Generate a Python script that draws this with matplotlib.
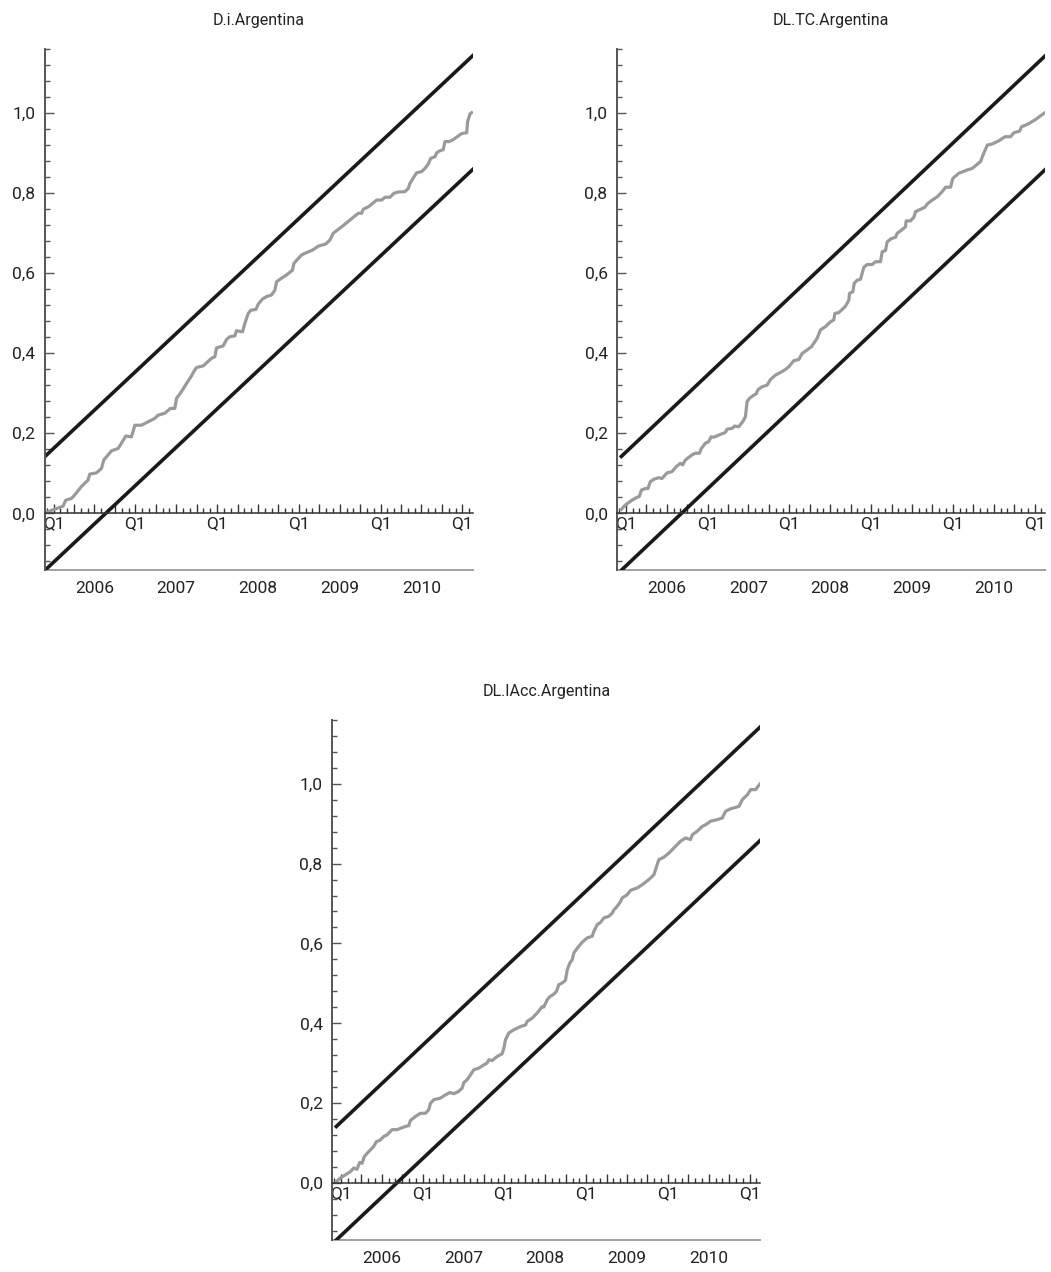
import numpy as np
import matplotlib.pyplot as plt
from matplotlib.ticker import MultipleLocator, FuncFormatter

plt.rcParams['font.family'] = ['Roboto', 'DejaVu Sans']

TITLES = ["D.i.Argentina", "DL.TC.Argentina", "DL.IAcc.Argentina"]
YEARS = [2006, 2007, 2008, 2009, 2010]
X_START = 2005.895
X_END = 2011.13
BOUND = 0.142          # half-width of the 5% bands
Y_TOP = 1.16

# sample start / end per series (decimal years)
starts = [2005.895, 2005.945, 2005.944]
ends = [2011.126, 2011.13, 2011.13]

# cumulated sum of squares, D.i.Argentina
di_t = [2005.904, 2006.116, 2006.149, 2006.218, 2006.259, 2006.341, 2006.422, 2006.443,
        2006.524, 2006.586, 2006.614, 2006.708, 2006.790, 2006.830, 2006.883, 2006.953,
        2006.994, 2007.075, 2007.238, 2007.279, 2007.361, 2007.430, 2007.483, 2007.504,
        2007.565, 2007.626, 2007.687, 2007.716, 2007.748, 2007.830, 2007.932, 2007.973,
        2007.993, 2008.075, 2008.116, 2008.156, 2008.218, 2008.238, 2008.311, 2008.340,
        2008.381, 2008.413, 2008.475, 2008.503, 2008.556, 2008.605, 2008.666, 2008.707,
        2008.728, 2008.789, 2008.850, 2008.923, 2008.940, 2009.034, 2009.095, 2009.156,
        2009.197, 2009.238, 2009.327, 2009.380, 2009.421, 2009.523, 2009.625, 2009.727,
        2009.768, 2009.788, 2009.850, 2009.911, 2009.952, 2010.013, 2010.054, 2010.115,
        2010.164, 2010.217, 2010.298, 2010.339, 2010.360, 2010.441, 2010.502, 2010.543,
        2010.584, 2010.613, 2010.665, 2010.686, 2010.727, 2010.767, 2010.788, 2010.841,
        2010.890, 2010.992, 2011.053, 2011.065, 2011.094, 2011.114]
di_v = [0.002, 0.018, 0.033, 0.037, 0.046, 0.067, 0.083, 0.098,
        0.101, 0.112, 0.133, 0.156, 0.162, 0.175, 0.193, 0.191,
        0.220, 0.220, 0.237, 0.245, 0.250, 0.262, 0.262, 0.287,
        0.304, 0.324, 0.343, 0.354, 0.364, 0.368, 0.387, 0.391,
        0.413, 0.418, 0.434, 0.441, 0.443, 0.456, 0.453, 0.474,
        0.499, 0.507, 0.509, 0.522, 0.535, 0.541, 0.545, 0.557,
        0.578, 0.587, 0.595, 0.607, 0.624, 0.645, 0.651, 0.656,
        0.661, 0.667, 0.672, 0.682, 0.699, 0.715, 0.732, 0.749,
        0.749, 0.759, 0.765, 0.775, 0.782, 0.782, 0.789, 0.789,
        0.799, 0.802, 0.803, 0.811, 0.824, 0.850, 0.853, 0.861,
        0.872, 0.886, 0.890, 0.900, 0.905, 0.908, 0.928, 0.928,
        0.933, 0.948, 0.950, 0.978, 0.997, 1.000]

# DL.TC.Argentina
tc_t = [2005.945, 2005.994, 2006.076, 2006.137, 2006.165, 2006.190, 2006.239, 2006.271,
        2006.300, 2006.341, 2006.402, 2006.443, 2006.504, 2006.565, 2006.614, 2006.667,
        2006.696, 2006.728, 2006.810, 2006.851, 2006.900, 2006.924, 2006.973, 2007.014,
        2007.043, 2007.075, 2007.157, 2007.218, 2007.238, 2007.300, 2007.332, 2007.381,
        2007.430, 2007.463, 2007.483, 2007.512, 2007.565, 2007.593, 2007.618, 2007.667,
        2007.728, 2007.769, 2007.830, 2007.912, 2007.952, 2007.993, 2008.054, 2008.116,
        2008.156, 2008.218, 2008.271, 2008.340, 2008.381, 2008.442, 2008.503, 2008.544,
        2008.556, 2008.605, 2008.646, 2008.687, 2008.728, 2008.736, 2008.777, 2008.793,
        2008.830, 2008.870, 2008.911, 2008.952, 2009.013, 2009.054, 2009.115, 2009.136,
        2009.176, 2009.197, 2009.250, 2009.299, 2009.319, 2009.372, 2009.421, 2009.429,
        2009.482, 2009.523, 2009.544, 2009.605, 2009.658, 2009.686, 2009.748, 2009.809,
        2009.870, 2009.911, 2009.972, 2010.000, 2010.074, 2010.176, 2010.237, 2010.339,
        2010.368, 2010.421, 2010.482, 2010.564, 2010.637, 2010.706, 2010.747, 2010.817,
        2010.841, 2010.890, 2010.931, 2011.012, 2011.126]
tc_v = [0.010, 0.021, 0.033, 0.040, 0.042, 0.058, 0.062, 0.062,
        0.079, 0.085, 0.089, 0.087, 0.101, 0.104, 0.116, 0.125,
        0.121, 0.133, 0.146, 0.150, 0.150, 0.162, 0.175, 0.179,
        0.191, 0.190, 0.197, 0.202, 0.210, 0.212, 0.218, 0.216,
        0.229, 0.241, 0.279, 0.287, 0.295, 0.298, 0.309, 0.316,
        0.320, 0.334, 0.345, 0.354, 0.359, 0.366, 0.381, 0.384,
        0.399, 0.408, 0.416, 0.437, 0.458, 0.466, 0.478, 0.483,
        0.499, 0.501, 0.509, 0.517, 0.532, 0.549, 0.553, 0.574,
        0.582, 0.584, 0.614, 0.621, 0.621, 0.628, 0.628, 0.653,
        0.656, 0.678, 0.686, 0.689, 0.699, 0.707, 0.715, 0.730,
        0.730, 0.739, 0.753, 0.759, 0.764, 0.772, 0.782, 0.790,
        0.803, 0.814, 0.814, 0.836, 0.849, 0.857, 0.861, 0.878,
        0.894, 0.919, 0.922, 0.930, 0.940, 0.940, 0.950, 0.954,
        0.965, 0.969, 0.973, 0.983, 1.000]

# DL.IAcc.Argentina
ia_t = [2005.944, 2005.994, 2006.055, 2006.116, 2006.157, 2006.197, 2006.230, 2006.259,
        2006.287, 2006.340, 2006.401, 2006.434, 2006.475, 2006.524, 2006.565, 2006.626,
        2006.687, 2006.736, 2006.789, 2006.830, 2006.850, 2006.911, 2006.973, 2007.034,
        2007.075, 2007.095, 2007.136, 2007.217, 2007.279, 2007.332, 2007.381, 2007.442,
        2007.483, 2007.503, 2007.544, 2007.585, 2007.625, 2007.687, 2007.748, 2007.789,
        2007.809, 2007.850, 2007.911, 2007.972, 2007.993, 2008.013, 2008.054, 2008.115,
        2008.156, 2008.197, 2008.258, 2008.278, 2008.339, 2008.401, 2008.462, 2008.482,
        2008.523, 2008.556, 2008.597, 2008.637, 2008.666, 2008.707, 2008.747, 2008.768,
        2008.800, 2008.829, 2008.849, 2008.890, 2008.951, 2009.013, 2009.074, 2009.094,
        2009.135, 2009.176, 2009.217, 2009.278, 2009.319, 2009.339, 2009.380, 2009.421,
        2009.441, 2009.502, 2009.543, 2009.625, 2009.686, 2009.767, 2009.829, 2009.849,
        2009.890, 2009.951, 2010.012, 2010.073, 2010.155, 2010.216, 2010.277, 2010.298,
        2010.359, 2010.420, 2010.461, 2010.522, 2010.604, 2010.665, 2010.706, 2010.767,
        2010.869, 2010.910, 2010.971, 2011.012, 2011.073, 2011.102, 2011.13]
ia_v = [0.004, 0.013, 0.021, 0.029, 0.038, 0.035, 0.052, 0.050,
        0.067, 0.079, 0.092, 0.104, 0.107, 0.117, 0.121, 0.134,
        0.134, 0.138, 0.142, 0.144, 0.157, 0.167, 0.175, 0.175,
        0.184, 0.200, 0.209, 0.213, 0.221, 0.227, 0.224, 0.230,
        0.238, 0.252, 0.259, 0.271, 0.284, 0.288, 0.296, 0.301,
        0.309, 0.307, 0.317, 0.324, 0.338, 0.359, 0.376, 0.384,
        0.388, 0.392, 0.396, 0.405, 0.413, 0.426, 0.442, 0.441,
        0.459, 0.467, 0.472, 0.480, 0.497, 0.501, 0.508, 0.534,
        0.551, 0.559, 0.576, 0.588, 0.603, 0.614, 0.618, 0.630,
        0.647, 0.653, 0.664, 0.668, 0.676, 0.684, 0.693, 0.705,
        0.714, 0.722, 0.733, 0.739, 0.747, 0.760, 0.772, 0.785,
        0.810, 0.816, 0.826, 0.839, 0.856, 0.864, 0.860, 0.872,
        0.881, 0.893, 0.897, 0.906, 0.910, 0.914, 0.931, 0.937,
        0.943, 0.960, 0.972, 0.985, 0.985, 0.993, 1.000]

series_t = [di_t, tc_t, ia_t]
series_v = [di_v, tc_v, ia_v]

fig = plt.figure(figsize=(10.51, 12.72), dpi=100)
positions = [
    [0.0428, 0.5517, 0.4072, 0.4101],
    [0.5873, 0.5517, 0.4072, 0.4101],
    [0.3162, 0.0252, 0.4072, 0.4090],
]

quarters = np.arange(2006, 2011.01, 0.25)
months = np.arange(2005 + 11 / 12, X_END, 1 / 12)


def comma(y, pos):
    return f"{y:.1f}".replace('.', ',')


for i in range(3):
    ax = fig.add_axes(positions[i])
    s, e = starts[i], ends[i]
    ax.plot([s, e], [BOUND, 1 + BOUND], color='#1a1a1a', lw=2.6)
    ax.plot([s, e], [-BOUND, 1 - BOUND], color='#1a1a1a', lw=2.6)
    ax.plot(series_t[i], series_v[i], color='#9a9a9a', lw=2.3)

    ax.set_xlim(X_START, X_END)
    ax.set_ylim(-BOUND, Y_TOP)
    ax.set_title(TITLES[i], fontsize=11.5, pad=17, color='#222222')

    ax.spines[['top', 'right']].set_visible(False)
    ax.spines['bottom'].set_position(('data', 0))
    ax.spines['bottom'].set_color('#333333')
    ax.spines['bottom'].set_linewidth(1.1)
    ax.spines['left'].set_color('#555555')
    ax.spines['left'].set_linewidth(1.4)

    # quarterly ticks on the zero line, Q1 labels at year start
    ax.set_xticks(quarters, labels=['Q1' if q == int(q) else '' for q in quarters])
    ax.set_xticks(months, minor=True)
    ax.tick_params(axis='x', which='major', direction='in', length=6.5, width=1,
                   color='#333333', pad=2, labelsize=12.5, labelcolor='#222222')
    ax.tick_params(axis='x', which='minor', direction='in', length=3.5, width=1,
                   color='#333333')

    ax.yaxis.set_major_locator(MultipleLocator(0.2))
    ax.yaxis.set_minor_locator(MultipleLocator(0.04))
    ax.yaxis.set_major_formatter(FuncFormatter(comma))
    ax.tick_params(axis='y', which='major', direction='in', length=6.5, width=1,
                   color='#555555', pad=7, labelsize=12.5, labelcolor='#222222')
    ax.tick_params(axis='y', which='minor', direction='in', length=3.6, width=1,
                   color='#555555')

    # year labels under the lower frame line
    sec = ax.secondary_xaxis('bottom')
    sec.set_xticks([y + 0.5 for y in YEARS], labels=[str(y) for y in YEARS])
    sec.tick_params(length=0, pad=8, labelsize=12.5, labelcolor='#222222')
    sec.spines['bottom'].set_color('#a0a0a0')
    sec.spines['bottom'].set_linewidth(1.4)

fig.savefig('out.png', dpi=100)
